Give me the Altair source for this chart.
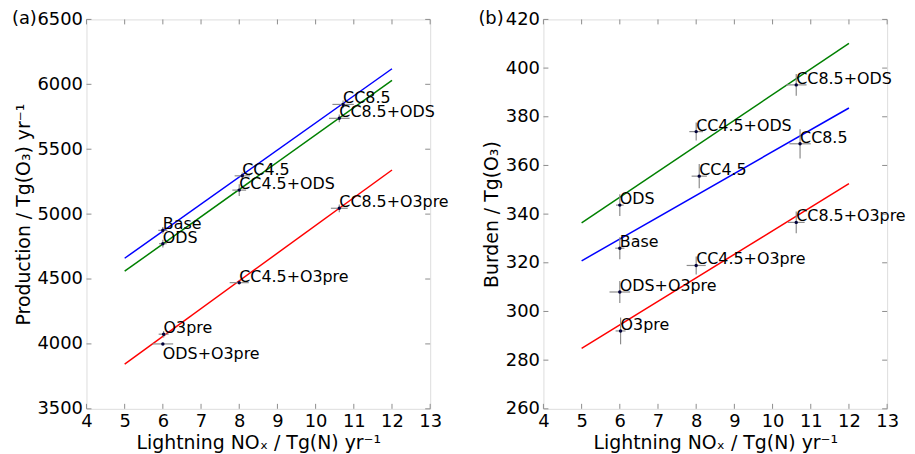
import altair as alt
import pandas as pd

# ---- data ----
labels = ["Base", "ODS", "O3pre", "ODS+O3pre", "CC4.5", "CC4.5+ODS",
          "CC4.5+O3pre", "CC8.5", "CC8.5+ODS", "CC8.5+O3pre"]
lnox = [6.0, 6.0, 6.02, 6.0, 8.08, 8.0, 8.0, 10.72, 10.62, 10.62]
lnox_err = [0.12, 0.1, 0.13, 0.27, 0.2, 0.18, 0.25, 0.28, 0.27, 0.22]
production = [4875, 4772, 4075, 4000, 5295, 5185, 4472, 5845, 5738, 5045]
production_err = [25, 30, 25, 8, 25, 45, 15, 30, 30, 30]
burden = [326.0, 343.7, 292.0, 308.0, 355.6, 373.9, 318.9, 368.9, 393.1, 336.6]
burden_err = [4.5, 4.5, 5.5, 4.5, 5.0, 3.7, 3.7, 6.0, 4.5, 4.5]

fit_series = ["base", "ods", "o3pre"]
fit_colors = ["#0000ff", "#008000", "#ff0000"]
fit_x = [5, 12]
prod_fit = {"base": [4660, 6120], "ods": [4560, 6030], "o3pre": [3845, 5340]}
burden_fit = {"base": [320.8, 383.6], "ods": [336.4, 410.2], "o3pre": [284.8, 352.5]}

x_ticks = list(range(4, 14))
prod_ticks = [3500, 4000, 4500, 5000, 5500, 6000, 6500]
burden_ticks = [260, 280, 300, 320, 340, 360, 380, 400, 420]

prod_below = ["ODS+O3pre"]   # label drawn under its point
burden_below = []

W, H = 346, 392
GRAY = "#8c8c8c"
FONT = "DejaVu Sans"
X_TITLE = "Lightning NOₓ / Tg(N) yr⁻¹"


def panel(yvals, yerrs, fits, ydomain, yticks, ytitle, tag, below):
    df = pd.DataFrame({"label": labels, "x": lnox, "xerr": lnox_err,
                       "y": yvals, "yerr": yerrs})
    rows = []
    for s in fit_series:
        for xv, yv in zip(fit_x, fits[s]):
            rows.append({"series": s, "x": xv, "y": yv})
    fdf = pd.DataFrame(rows)

    xs = alt.Scale(domain=[4, 13], nice=False, zero=False)
    ys = alt.Scale(domain=ydomain, nice=False, zero=False)
    xaxis = alt.Axis(title=X_TITLE, values=x_ticks, ticks=False, domain=False,
                     grid=False, labelFontSize=18, titleFontSize=19,
                     titleFontWeight="normal", labelPadding=4, titlePadding=3,
                     labelFlush=False, labelColor="black", titleColor="black",
                     labelFont=FONT, titleFont=FONT)
    yaxis = alt.Axis(title=ytitle, values=yticks, ticks=False, domain=False,
                     grid=False, labelFontSize=18, titleFontSize=19,
                     titleFontWeight="normal", labelPadding=4, titlePadding=4,
                     labelFlush=False, format="d", labelColor="black",
                     titleColor="black", labelFont=FONT, titleFont=FONT)

    def X(f):
        return alt.X(f, type="quantitative", scale=xs, axis=xaxis)

    def Y(f):
        return alt.Y(f, type="quantitative", scale=ys, axis=yaxis)

    lines = alt.Chart(fdf).mark_line(strokeWidth=1.5).encode(
        x=X("x"), y=Y("y"),
        color=alt.Color("series:N", scale=alt.Scale(domain=fit_series, range=fit_colors),
                        legend=None),
        detail="series:N",
    )
    base = alt.Chart(df).transform_calculate(
        xlo="datum.x - datum.xerr", xhi="datum.x + datum.xerr",
        ylo="datum.y - datum.yerr", yhi="datum.y + datum.yerr",
    )
    xbars = base.mark_rule(color=GRAY, strokeWidth=1.2).encode(
        x=X("xlo"), x2="xhi:Q", y=Y("y"))
    ybars = base.mark_rule(color=GRAY, strokeWidth=1.2).encode(
        x=X("x"), y=Y("ylo"), y2="yhi:Q")
    pts = base.mark_circle(size=12, color="#00003a", opacity=1).encode(
        x=X("x"), y=Y("y"))
    txt_above = base.transform_filter(
        alt.FieldOneOfPredicate(field="label", oneOf=[l for l in labels if l not in below])
    ).mark_text(align="left", baseline="alphabetic", fontSize=16, font=FONT,
                color="black", dy=-1).encode(x=X("x"), y=Y("y"), text="label:N")
    layers = [lines, xbars, ybars, pts, txt_above]
    if below:
        txt_below = base.transform_filter(
            alt.FieldOneOfPredicate(field="label", oneOf=below)
        ).mark_text(align="left", baseline="top", fontSize=16, font=FONT,
                    color="black", dy=2).encode(x=X("x"), y=Y("y"), text="label:N")
        layers.append(txt_below)

    tx = alt.Chart(pd.DataFrame({"v": x_ticks}))
    ty = alt.Chart(pd.DataFrame({"v": yticks}))
    tl = 5
    layers += [
        tx.mark_rule(color=GRAY).encode(x=X("v"), y=alt.value(0), y2=alt.value(tl)),
        tx.mark_rule(color=GRAY).encode(x=X("v"), y=alt.value(H - tl), y2=alt.value(H)),
        ty.mark_rule(color=GRAY).encode(y=Y("v"), x=alt.value(0), x2=alt.value(tl)),
        ty.mark_rule(color=GRAY).encode(y=Y("v"), x=alt.value(W - tl), x2=alt.value(W)),
    ]
    tagc = alt.Chart(pd.DataFrame({"t": [tag[0]]})).mark_text(
        align="right", baseline="middle", fontSize=18, font=FONT, color="black"
    ).encode(text="t:N", x=alt.value(tag[1]), y=alt.value(0))
    layers.append(tagc)
    return alt.layer(*layers).properties(width=W, height=H)


left = panel(production, production_err, prod_fit, [3500, 6500], prod_ticks,
             "Production / Tg(O₃) yr⁻¹", ("(a)", -50), prod_below)
right = panel(burden, burden_err, burden_fit, [260, 420], burden_ticks,
              "Burden / Tg(O₃)", ("(b)", -40), burden_below)

chart = alt.hconcat(left, right, spacing=114, bounds="flush").properties(
    padding={"left": 3, "right": 0, "top": 0, "bottom": 0}
).configure_view(stroke="#777777", strokeWidth=1).configure(font=FONT)

chart.save("out.html", embed_options={"renderer": "svg", "actions": False})
